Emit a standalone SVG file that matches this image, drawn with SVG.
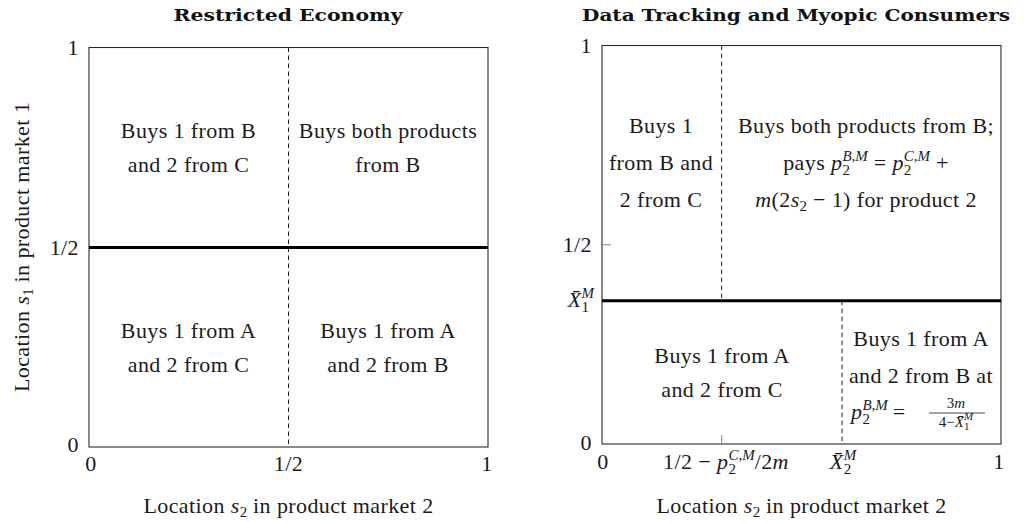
<svg xmlns="http://www.w3.org/2000/svg" width="1024" height="522" viewBox="0 0 1024 522">
  <style>
    .t { font-family: "Liberation Serif", "DejaVu Serif", serif; font-size: 22px; letter-spacing: 0.4px; fill: #1a1a1a; }
    .c { text-anchor: middle; }
    .e { text-anchor: end; }
    .i { font-style: italic; }
    .s { font-size: 15px; letter-spacing: 0; }
    .f { font-size: 15px; letter-spacing: 0; }
    .fs { font-size: 11px; }
    .title { font-family: "DejaVu Serif", "Liberation Serif", serif; font-size: 17.5px; font-weight: bold; fill: #111; text-anchor: middle; }
    .frame { fill: none; stroke: #2a2a2a; stroke-width: 1.1; }
    .bound { stroke: #000; stroke-width: 3; }
    .dash { stroke: #1a1a1a; stroke-width: 1; stroke-dasharray: 4.5 3.5; }
    .tick { stroke: #888; stroke-width: 1; }
  </style>

  <!-- Left plot: restricted economy -->
  <g id="restricted-economy">
    <text class="title" x="288" y="20.5" textLength="229" lengthAdjust="spacingAndGlyphs">Restricted Economy</text>
    <rect class="frame" x="89" y="47.5" width="399" height="399.5"/>

    <g id="left-boundaries">
      <line class="dash" x1="288.5" y1="47.5" x2="288.5" y2="447"/>
      <line class="bound" x1="89" y1="247.5" x2="488" y2="247.5"/>
    </g>

    <!-- axis tick labels -->
    <text class="t e" x="79" y="55">1</text>
    <text class="t e" x="79" y="255">1/2</text>
    <text class="t e" x="79" y="452">0</text>
    <text class="t c" x="91" y="471">0</text>
    <text class="t c" x="288.5" y="471">1/2</text>
    <text class="t c" x="487" y="471">1</text>

    <text class="t c" x="288.5" y="513">Location <tspan class="i">s</tspan><tspan class="s" dy="4">2</tspan><tspan dy="-4"> in product market 2</tspan></text>
    <text class="t c" transform="translate(28.5 247) rotate(-90)">Location <tspan class="i">s</tspan><tspan class="s" dy="4">1</tspan><tspan dy="-4"> in product market 1</tspan></text>

    <g id="re-b1-c2">
      <text class="t c" x="188.5" y="138">Buys 1 from B</text>
      <text class="t c" x="188.5" y="172">and 2 from C</text>
    </g>
    <g id="re-b-both">
      <text class="t c" x="388" y="138">Buys both products</text>
      <text class="t c" x="388" y="172">from B</text>
    </g>
    <g id="re-a1-c2">
      <text class="t c" x="188.5" y="338">Buys 1 from A</text>
      <text class="t c" x="188.5" y="372">and 2 from C</text>
    </g>
    <g id="re-a1-b2">
      <text class="t c" x="388" y="338">Buys 1 from A</text>
      <text class="t c" x="388" y="372">and 2 from B</text>
    </g>
  </g>

  <!-- Right plot: data tracking with myopic consumers -->
  <g id="data-tracking">
    <text class="title" x="796" y="20.5" textLength="428" lengthAdjust="spacingAndGlyphs">Data Tracking and Myopic Consumers</text>
    <rect class="frame" x="602" y="45.5" width="399" height="398.5"/>

    <line class="tick" x1="602" y1="244.7" x2="611" y2="244.7"/>
    <line class="tick" x1="721.7" y1="444" x2="721.7" y2="435"/>

    <g id="right-boundaries">
      <line class="dash" x1="721.7" y1="45.5" x2="721.7" y2="300.7"/>
      <line class="dash" x1="842" y1="300.7" x2="842" y2="444"/>
      <line class="bound" x1="602" y1="300.7" x2="1001" y2="300.7"/>
    </g>

    <!-- axis tick labels -->
    <text class="t e" x="592" y="53">1</text>
    <text class="t e" x="592" y="252">1/2</text>
    <text class="t e" x="594" y="307"><tspan class="i">X̄</tspan><tspan class="s" dy="5">1</tspan><tspan class="s i" dx="-7.5" dy="-14">M</tspan></text>
    <text class="t e" x="592" y="450">0</text>
    <text class="t c" x="603" y="469">0</text>
    <text class="t c" x="726" y="469">1/2 − <tspan class="i">p</tspan><tspan class="s" dy="5">2</tspan><tspan class="s i" dx="-7.5" dy="-14">C,M</tspan><tspan dy="9">/2</tspan><tspan class="i">m</tspan></text>
    <text class="t c" x="843" y="469"><tspan class="i">X̄</tspan><tspan class="s" dy="5">2</tspan><tspan class="s i" dx="-7.5" dy="-14">M</tspan></text>
    <text class="t c" x="999" y="469">1</text>

    <text class="t c" x="801.5" y="513">Location <tspan class="i">s</tspan><tspan class="s" dy="4">2</tspan><tspan dy="-4"> in product market 2</tspan></text>

    <g id="dt-b1-c2">
      <text class="t c" x="661" y="133">Buys 1</text>
      <text class="t c" x="661" y="170">from B and</text>
      <text class="t c" x="661" y="207">2 from C</text>
    </g>
    <g id="dt-b-both">
      <text class="t c" x="866" y="133">Buys both products from B;</text>
      <text class="t c" x="866" y="170">pays <tspan class="i">p</tspan><tspan class="s" dy="5">2</tspan><tspan class="s i" dx="-7.5" dy="-14">B,M</tspan><tspan dy="9"> = </tspan><tspan class="i">p</tspan><tspan class="s" dy="5">2</tspan><tspan class="s i" dx="-7.5" dy="-14">C,M</tspan><tspan dy="9"> +</tspan></text>
      <text class="t c" x="866" y="207"><tspan class="i">m</tspan>(2<tspan class="i">s</tspan><tspan class="s" dy="4">2</tspan><tspan dy="-4"> − 1) for product 2</tspan></text>
    </g>
    <g id="dt-a1-c2">
      <text class="t c" x="722" y="363">Buys 1 from A</text>
      <text class="t c" x="722" y="397">and 2 from C</text>
    </g>
    <g id="dt-a1-b2">
      <text class="t c" x="921" y="346">Buys 1 from A</text>
      <text class="t c" x="921" y="383">and 2 from B at</text>
      <text class="t" x="851" y="419"><tspan class="i">p</tspan><tspan class="s" dy="5">2</tspan><tspan class="s i" dx="-7.5" dy="-14">B,M</tspan><tspan dy="9" dx="5">=</tspan></text>
      <text class="t f c" x="956" y="408">3<tspan class="i">m</tspan></text>
      <line x1="929" y1="413" x2="985" y2="413" stroke="#1a1a1a" stroke-width="0.8"/>
      <text class="t f c" x="956" y="427">4−<tspan class="i">X̄</tspan><tspan class="fs" dy="3">1</tspan><tspan class="fs i" dx="-5.5" dy="-10">M</tspan></text>
    </g>
  </g>
</svg>
